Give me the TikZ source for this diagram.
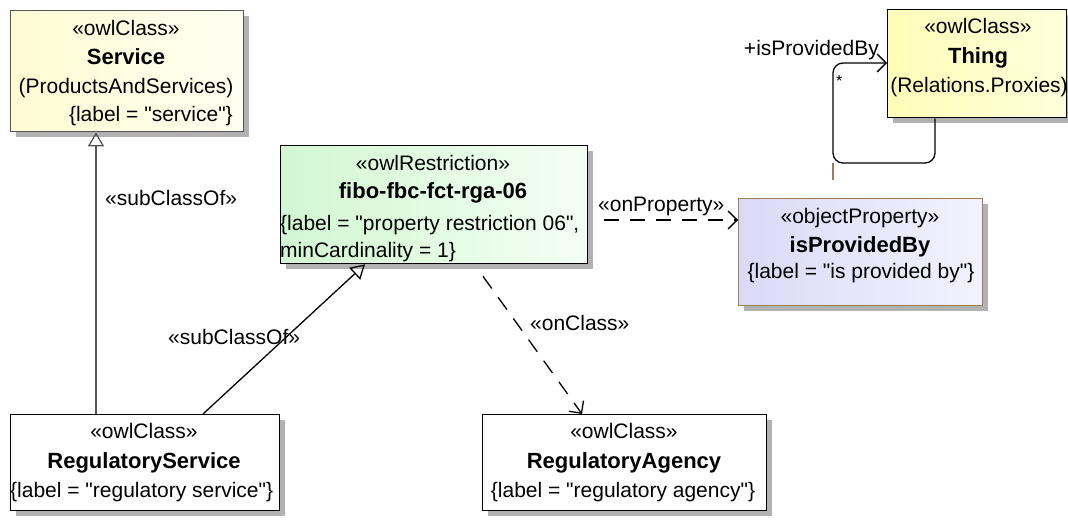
\documentclass[tikz,border=0pt]{standalone}
\usepackage{fontspec}
\setmainfont{Liberation Sans}[Ligatures=TeXOff]
\usetikzlibrary{arrows.meta,shadows,calc}
\definecolor{svcA}{HTML}{FFFBD2}
\definecolor{svcB}{HTML}{FFFFF2}
\definecolor{resA}{HTML}{D2F7D2}
\definecolor{resB}{HTML}{F4FFF4}
\definecolor{propA}{HTML}{DADAF7}
\definecolor{propB}{HTML}{F2F2FF}
\definecolor{thA}{HTML}{FFFDB8}
\definecolor{thB}{HTML}{FFFFDC}
\definecolor{brownb}{HTML}{A07C5C}
\definecolor{grayline}{HTML}{555555}
\begin{document}
\begin{tikzpicture}[x=1pt,y=-1pt,
  box/.style={draw, line width=1.3pt, inner sep=0pt, anchor=north west,
    drop shadow={shadow xshift=5pt,shadow yshift=-5pt,fill=black!30,opacity=1}},
  txt/.style={anchor=base, inner sep=0pt, font=\fontsize{21}{25}\selectfont},
  btxt/.style={anchor=base, inner sep=0pt, font=\fontsize{22}{26}\selectfont\bfseries},
  conn/.style={line width=1.3pt},
  gen/.style={-{Triangle[open,length=14pt,width=16pt,line width=1.3pt]}},
  dep/.style={conn, dash pattern=on 15pt off 11pt, -{Straight Barb[length=9pt,width=18pt,line width=1.3pt]}}
]
\useasboundingbox (0,0) rectangle (1068,523);

% boxes
\node[box, draw=grayline, left color=svcA, right color=svcB, minimum width=233pt, minimum height=121pt] (svc) at (10,10) {};
\node[box, left color=resA, right color=resB, minimum width=307pt, minimum height=118pt] (res) at (280,145) {};
\node[box, left color=thA, right color=thB, minimum width=179pt, minimum height=108pt] (thing) at (887,9) {};
\node[box, draw=brownb, left color=propA, right color=propB, minimum width=244pt, minimum height=107pt] (prop) at (738,198) {};
\node[box, fill=white, minimum width=269pt, minimum height=96pt] (rs) at (10,414) {};
\node[box, fill=white, minimum width=284pt, minimum height=96pt] (ra) at (482,414) {};

% Service texts
\node[txt] (s1) at (126,35) {«owlClass»};
\node[btxt] (s2) at (126,64) {Service};
\node[txt] (s3) at (126,93) {(ProductsAndServices)};
\node[txt, anchor=base east] (s4) at (233,121) {\{label = "service"\}};

% Restriction texts
\node[txt] (r1) at (433,170) {«owlRestriction»};
\node[btxt] (r2) at (433,198) {fibo-fbc-fct-rga-06};
\node[txt, anchor=base west] (r3) at (280,230) {\{label = "property restriction 06",};
\node[txt, anchor=base west] (r4) at (280,257) {minCardinality = 1\}};

% Thing texts
\node[txt] (th1) at (978,33) {«owlClass»};
\node[btxt] (th2) at (978,63) {Thing};
\node[txt] (th3) at (979,92) {(Relations.Proxies)};

% objectProperty texts
\node[txt] (p1) at (860,223) {«objectProperty»};
\node[btxt] (p2) at (860,252) {isProvidedBy};
\node[txt] (p3) at (861,278) {\{label = "is provided by"\}};

% RegulatoryService texts
\node[txt] (rs1) at (144,438) {«owlClass»};
\node[btxt] (rs2) at (144,468) {RegulatoryService};
\node[txt, anchor=base west] (rs3) at (10,497) {\{label = "regulatory service"\}};

% RegulatoryAgency texts
\node[txt] (ra1) at (624,438) {«owlClass»};
\node[btxt] (ra2) at (624,468) {RegulatoryAgency};
\node[txt] (ra3) at (623,497) {\{label = "regulatory agency"\}};

% generalizations
\draw[conn, draw=grayline, gen] ([xshift=86pt]rs.north west) -- ([xshift=86pt]svc.south west);
\node[txt, anchor=base west] (l1) at (105,205) {«subClassOf»};
\draw[conn, gen] ([xshift=193pt]rs.north west) -- ([xshift=85pt]res.south west);
\node[txt, anchor=base west] (l2) at (168,344) {«subClassOf»};

% dependencies
\coordinate (opS) at ($(res.north east)+(16,75)$);
\draw[dep] (opS) -- (opS -| prop.west);
\node[txt, anchor=base west] (l3) at (598,211) {«onProperty»};
\coordinate (ocS) at ($(res.south west)+(203,12)$);
\draw[dep] (ocS) -- ([xshift=100pt]ra.north west);
\node[txt, anchor=base west] (l4) at (530,330) {«onClass»};

% self association on Thing
\coordinate (lp) at (833,163);
\draw[conn, rounded corners=10pt, -{Straight Barb[length=9pt,width=18pt,line width=1.3pt]}]
  ($(thing.south west)+(48,0)$) |- (lp) -- (833,63) -- (thing.west |- 0,63);
\node[txt, anchor=base east] (l5) at (879,55) {+isProvidedBy};
\node[anchor=base west, inner sep=0pt, font=\fontsize{16}{18}\selectfont] (l6) at (836,86) {*};
\coordinate (lb) at (833,180);
\draw[line width=1.3pt, draw=brownb] (lp) -- (lb);
\end{tikzpicture}
\end{document}
